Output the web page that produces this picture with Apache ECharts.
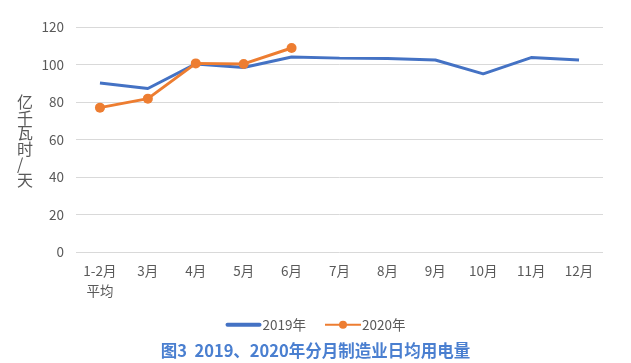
<!DOCTYPE html>
<html><head><meta charset="utf-8">
<script src="https://cdn.jsdelivr.net/npm/echarts@6/dist/echarts.min.js"></script>
<style>html,body{margin:0;padding:0;background:#fff}#c{width:631px;height:363px}</style>
</head><body><div id="c"></div>
<script>
const categories = ['1-2月\n平均','3月','4月','5月','6月','7月','8月','9月','10月','11月','12月'];
const values2019 = [90.1, 87.2, 100.3, 98.4, 104.0, 103.4, 103.2, 102.4, 95.0, 103.7, 102.4];
const values2020 = [77.0, 81.8, 100.6, 100.3, 108.8];
const yTicks = {min: 0, max: 120, interval: 20};
const chart = echarts.init(document.getElementById('c'));
chart.setOption({
  animation: false,
  backgroundColor: '#fff',
  textStyle: {fontFamily: '"Noto Sans CJK SC", "Noto Sans", sans-serif'},
  title: {
    text: '图3  2019、2020年分月制造业日均用电量',
    left: 'center', top: 337,
    textStyle: {color: '#4a7fd0', fontSize: 16.5, fontWeight: 'bold', fontFamily: '"Noto Sans CJK SC", sans-serif'}
  },
  legend: {
    top: 313, left: 'center', itemWidth: 36, itemHeight: 10, itemGap: 18,
    textStyle: {color: '#595959', fontSize: 13.5, padding: [0,0,0,-4]},
    data: [{name: '2019年', icon: 'path://M2,0 L34,0 A2,2 0 0 1 34,4 L2,4 A2,2 0 0 1 2,0 Z'}, {name: '2020年'}]
  },
  graphic: [{
    type: 'text', left: 17, top: 94,
    style: {text: '亿\n千\n瓦\n时\n/\n天', fill: '#595959', fontSize: 16, lineHeight: 15.5, align: 'center',
      fontFamily: '"Noto Sans CJK SC", sans-serif'}
  }],
  grid: {left: 76, right: 28, top: 27, bottom: 111},
  xAxis: {
    type: 'category', data: categories, boundaryGap: true,
    axisLine: {show: false}, axisTick: {show: false},
    axisLabel: {color: '#595959', fontSize: 13.5, margin: 9, lineHeight: 20, interval: 0}
  },
  yAxis: {
    type: 'value', min: yTicks.min, max: yTicks.max, interval: yTicks.interval,
    axisLine: {show: false}, axisTick: {show: false},
    axisLabel: {color: '#595959', fontSize: 13.5, margin: 12},
    splitLine: {lineStyle: {color: '#d9d9d9', width: 1}}
  },
  series: [
    {name: '2019年', type: 'line', data: values2019, symbol: 'none',
      lineStyle: {color: '#4472c4', width: 3}, itemStyle: {color: '#4472c4'}},
    {name: '2020年', type: 'line', data: values2020, symbol: 'circle', symbolSize: 10,
      lineStyle: {color: '#ed7d31', width: 3}, itemStyle: {color: '#ed7d31'}}
  ]
});
</script></body></html>
